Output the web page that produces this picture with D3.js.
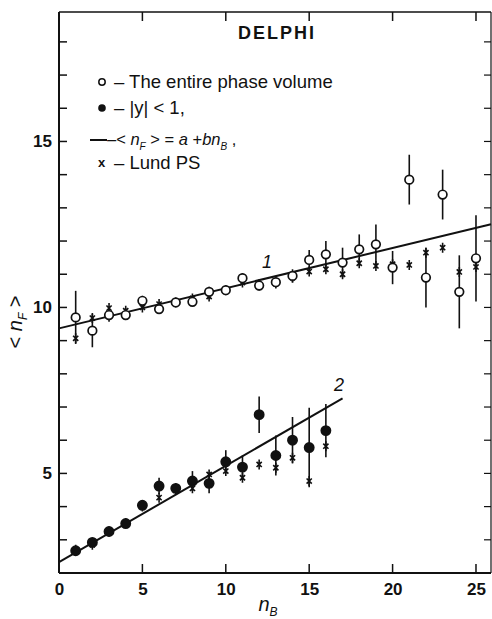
<!DOCTYPE html>
<html>
<head>
<meta charset="utf-8">
<script src="https://cdn.jsdelivr.net/npm/d3@7"></script>
<style>
  html, body { margin: 0; padding: 0; background: #fff; }
  svg { display: block; font-family: "Liberation Sans", Arial, sans-serif; }
</style>
</head>
<body>
<svg id="chart" width="492" height="619"></svg>
<script>
// ---- data ----
const nB = [1,2,3,4,5,6,7,8,9,10,11,12,13,14,15,16,17,18,19,20,21,22,23,24,25];
const fullValues = [9.70,9.30,9.77,9.77,10.20,9.95,10.15,10.17,10.47,10.52,10.88,10.66,10.76,10.95,11.43,11.60,11.35,11.75,11.90,11.20,13.85,10.90,13.40,10.47,11.48];
const fullErrors = [0.80,0.50,0.20,0.15,0.15,0.15,0.10,0.10,0.15,0.12,0.15,0.15,0.15,0.20,0.30,0.40,0.45,0.45,0.60,0.50,0.75,0.90,0.75,1.10,1.30];
const fullLund   = [9.07,9.68,9.98,9.90,10.00,10.10,10.15,10.27,10.33,10.52,10.75,10.70,10.72,10.90,11.08,11.15,11.00,11.33,11.25,11.30,11.28,11.65,11.80,11.07,11.22];

const nBcentral = [1,2,3,4,5,6,7,8,9,10,11,12,13,14,15,16];
const centralValues = [2.67,2.92,3.25,3.49,4.04,4.62,4.55,4.77,4.70,5.35,5.19,6.77,5.54,6.00,5.78,6.29];
const centralErrors = [0.10,0.10,0.10,0.10,0.12,0.25,0.15,0.30,0.30,0.35,0.35,0.55,0.60,0.70,1.20,0.80];
const centralLund   = [2.70,2.85,3.25,3.50,4.00,4.27,4.50,4.55,4.97,5.07,4.87,5.27,5.17,5.47,4.77,5.82];

const fit1 = { a: 9.37, b: 0.121, xMin: 0, xMax: 25.9 };
const fit2 = { a: 2.33, b: 0.29, xMin: 0, xMax: 17 };

const xTicks = [0,5,10,15,20,25];
const yTicksMajor = [5,10,15];
const yTicksMinor = [3,4,5,6,7,8,9,10,11,12,13,14,15,16,17,18];

// ---- layout ----
const svg = d3.select("#chart");
const x = d3.scaleLinear().domain([0, 25.9]).range([59, 491]);
const y = d3.scaleLinear().domain([2, 18.9]).range([573, 12]);
const ink = "#111";

// frame
const g = svg.append("g");
g.append("line").attr("x1", x(0)).attr("x2", x(0)).attr("y1", y(2)).attr("y2", y(18.9)).attr("stroke", ink).attr("stroke-width", 2);
g.append("line").attr("x1", x(0)).attr("x2", x(25.9)).attr("y1", y(2)).attr("y2", y(2)).attr("stroke", ink).attr("stroke-width", 2);
g.append("line").attr("x1", x(0)).attr("x2", x(25.9)).attr("y1", y(18.9)).attr("y2", y(18.9)).attr("stroke", ink).attr("stroke-width", 1.6);
g.append("line").attr("x1", x(25.9)).attr("x2", x(25.9)).attr("y1", y(2)).attr("y2", y(18.9)).attr("stroke", ink).attr("stroke-width", 1.2);

// bottom axis
const xAxis = d3.axisBottom(x).tickValues(xTicks).tickSize(0).tickPadding(10);
const gx = svg.append("g").attr("transform", `translate(0,${y(2)})`).call(xAxis);
gx.select(".domain").remove();
gx.selectAll("text").attr("font-size", 17).attr("fill", ink).attr("font-weight", "bold").attr("font-family", "Liberation Sans, Arial, sans-serif");
// inward tick marks bottom and top
xTicks.filter(d => d > 0).forEach(d => {
  g.append("line").attr("x1", x(d)).attr("x2", x(d)).attr("y1", y(2)).attr("y2", y(2) - 9).attr("stroke", ink).attr("stroke-width", 1.5);
  g.append("line").attr("x1", x(d)).attr("x2", x(d)).attr("y1", y(18.9)).attr("y2", y(18.9) + 9).attr("stroke", ink).attr("stroke-width", 1.5);
});

// left axis
const yAxis = d3.axisLeft(y).tickValues(yTicksMajor).tickSize(0).tickPadding(7);
const gy = svg.append("g").attr("transform", `translate(${x(0)},0)`).call(yAxis);
gy.select(".domain").remove();
gy.selectAll("text").attr("font-size", 17).attr("fill", ink).attr("font-weight", "bold").attr("font-family", "Liberation Sans, Arial, sans-serif");
yTicksMinor.forEach(d => {
  g.append("line").attr("x1", x(0)).attr("x2", x(0) + 8).attr("y1", y(d)).attr("y2", y(d)).attr("stroke", ink).attr("stroke-width", 1.5);
  g.append("line").attr("x1", x(25.9)).attr("x2", x(25.9) - 7).attr("y1", y(d)).attr("y2", y(d)).attr("stroke", ink).attr("stroke-width", 1.2);
});

// axis titles
const yl = svg.append("text").attr("transform", `translate(22,322) rotate(-90)`)
  .attr("text-anchor", "middle").attr("font-size", 20).attr("fill", ink);
yl.append("tspan").text("< ");
yl.append("tspan").text("n").attr("font-style", "italic");
yl.append("tspan").text("F").attr("font-size", 12).attr("dy", 5).attr("font-style", "italic");
yl.append("tspan").text(" >").attr("dy", -5);

const xl = svg.append("text").attr("x", 268).attr("y", 611).attr("text-anchor", "middle").attr("font-size", 20).attr("fill", ink);
xl.append("tspan").text("n").attr("font-style", "italic");
xl.append("tspan").text("B").attr("font-size", 12).attr("dy", 5).attr("font-style", "italic");

// title
svg.append("text").attr("x", 277).attr("y", 39).attr("text-anchor", "middle")
  .attr("font-size", 18).attr("font-weight", "bold").attr("letter-spacing", 2).attr("fill", ink).text("DELPHI");

// fit lines
function fitLine(f) {
  const pts = [f.xMin, f.xMax].map(v => [x(v), y(f.a + f.b * v)]);
  g.append("path").attr("d", d3.line()(pts)).attr("stroke", ink).attr("stroke-width", 2).attr("fill", "none");
}
fitLine(fit1);
fitLine(fit2);
svg.append("text").attr("x", 262).attr("y", 268).attr("font-size", 18).attr("font-style", "italic").attr("fill", ink).text("1");
svg.append("text").attr("x", 334).attr("y", 391).attr("font-size", 18).attr("font-style", "italic").attr("fill", ink).text("2");

// Lund PS crosses
function crosses(xs, vals) {
  const s = 2.6;
  xs.forEach((xv, i) => {
    const cx = x(xv), cy = y(vals[i]);
    g.append("path").attr("d", `M${cx - s},${cy - s}L${cx + s},${cy + s}M${cx - s},${cy + s}L${cx + s},${cy - s}M${cx},${cy - 5}L${cx},${cy + 5}`)
      .attr("stroke", ink).attr("stroke-width", 1.6).attr("fill", "none");
  });
}
crosses(nB, fullLund);
crosses(nBcentral, centralLund);

// error bars + points
function points(xs, vals, errs, filled) {
  xs.forEach((xv, i) => {
    g.append("line").attr("x1", x(xv)).attr("x2", x(xv)).attr("y1", y(vals[i] - errs[i])).attr("y2", y(vals[i] + errs[i]))
      .attr("stroke", ink).attr("stroke-width", 1.6);
    g.append("circle").attr("cx", x(xv)).attr("cy", y(vals[i])).attr("r", filled ? 4.6 : 4.3)
      .attr("fill", filled ? ink : "#fff").attr("stroke", ink).attr("stroke-width", 1.7);
  });
}
points(nB, fullValues, fullErrors, false);
points(nBcentral, centralValues, centralErrors, true);

// legend
const lg = svg.append("g").attr("fill", ink).attr("font-size", 18.5);
lg.append("circle").attr("cx", 102).attr("cy", 82).attr("r", 3.2).attr("fill", "#fff").attr("stroke", ink).attr("stroke-width", 1.5);
lg.append("text").attr("x", 114).attr("y", 88).text("– The entire phase volume");
lg.append("circle").attr("cx", 102).attr("cy", 108).attr("r", 3.8).attr("fill", ink);
lg.append("text").attr("x", 114).attr("y", 114).text("– |y| < 1,");
lg.append("line").attr("x1", 90).attr("x2", 107).attr("y1", 140).attr("y2", 140).attr("stroke", ink).attr("stroke-width", 2);
const t3 = lg.append("text").attr("x", 107).attr("y", 145).attr("font-size", 16.5);
t3.append("tspan").text("–<");
t3.append("tspan").text(" n").attr("font-style", "italic");
t3.append("tspan").text("F").attr("font-size", 10).attr("dy", 5).attr("font-style", "italic");
t3.append("tspan").text(" > = ").attr("dy", -5);
t3.append("tspan").text("a").attr("font-style", "italic");
t3.append("tspan").text(" +");
t3.append("tspan").text("bn").attr("font-style", "italic");
t3.append("tspan").text("B").attr("font-size", 10).attr("dy", 5).attr("font-style", "italic");
t3.append("tspan").text(" ,").attr("dy", -5);
lg.append("text").attr("x", 98).attr("y", 167).attr("font-size", 13).attr("font-weight", "bold").text("x");
lg.append("text").attr("x", 114).attr("y", 169).text("– Lund PS");
</script>
</body>
</html>
